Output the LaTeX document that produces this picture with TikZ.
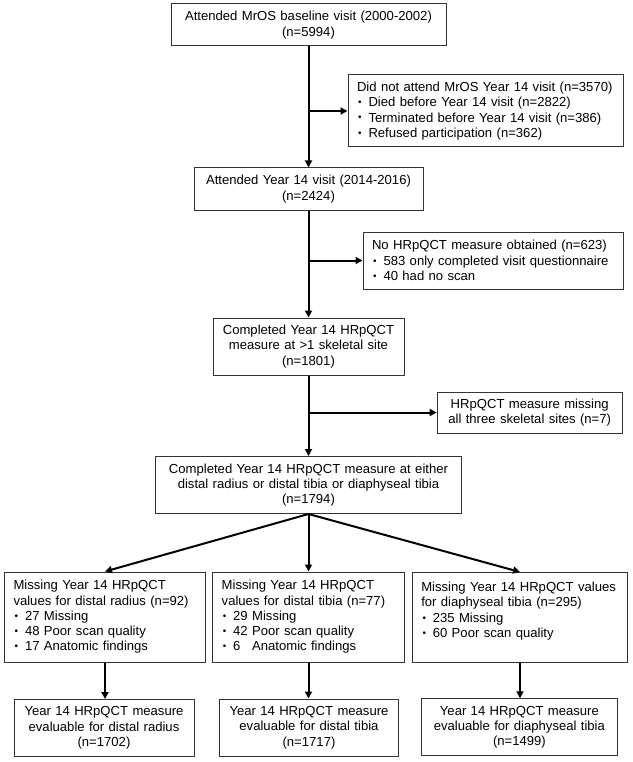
\documentclass[tikz,border=0pt]{standalone}
\usepackage{fontspec}
\setmainfont{Liberation Sans}
\usetikzlibrary{arrows.meta}
\newcommand{\myfont}{\fontsize{13.1}{15.3}\selectfont}
\newcommand{\bul}{\makebox[11.5pt][l]{\hspace{1.2pt}\raisebox{0.15ex}{\scalebox{0.75}{\textbullet}}}}
\begin{document}
\begin{tikzpicture}[x=1pt,y=-1pt,
  bx/.style={draw=black!80, line width=1pt, inner ysep=0pt, font=\myfont},
  cbx/.style={bx, align=center, inner xsep=4pt},
  lbx/.style={bx, align=left, inner xsep=9pt},
  arr/.style={line width=2pt, -{Triangle[length=7pt,width=7pt]}}]
\useasboundingbox[fill=white] (0,0) rectangle (632,762);

\node[cbx, text width=267pt, minimum height=42pt] (b1) at (308.5,25)
  {Attended MrOS baseline visit (2000-2002)\\(n=5994)};
\node[lbx, text width=257pt, minimum height=72pt] (e1) at (485.5,111)
  {Did not attend MrOS Year 14 visit (n=3570)\\
   \bul Died before Year 14 visit (n=2822)\\
   \bul Terminated before Year 14 visit (n=386)\\
   \bul Refused participation (n=362)};
\node[cbx, text width=221pt, minimum height=42pt] (b2) at (308.5,189)
  {Attended Year 14 visit (2014-2016)\\(n=2424)};
\node[lbx, text width=242pt, minimum height=57pt] (e2) at (493,260.5)
  {No HRpQCT measure obtained (n=623)\\
   \bul 583 only completed visit questionnaire\\
   \bul 40 had no scan};
\node[cbx, text width=183pt, minimum height=57pt] (b3) at (308.5,346.5)
  {Completed Year 14 HRpQCT\\measure at >1 skeletal site\\(n=1801)};
\node[cbx, text width=177pt, minimum height=41pt] (e3) at (529.7,412.5)
  {HRpQCT measure missing\\all three skeletal sites (n=7)};
\node[cbx, text width=298pt, minimum height=57pt] (b4) at (308.5,485)
  {Completed Year 14 HRpQCT measure at either\\distal radius or distal tibia or diaphyseal tibia\\(n=1794)};

\node[lbx, text width=183pt, minimum height=90pt] (m1) at (105,617)
  {Missing Year 14 HRpQCT\\values for distal radius (n=92)\\
   \bul 27 Missing\\
   \bul 48 Poor scan quality\\
   \bul 17 Anatomic findings};
\node[lbx, text width=173.6pt, minimum height=90pt] (m2) at (308.5,617)
  {Missing Year 14 HRpQCT\\values for distal tibia (n=77)\\
   \bul 29 Missing\\
   \bul 42 Poor scan quality\\
   \bul 6\phantom{0} Anatomic findings};
\node[lbx, text width=197.4pt, minimum height=90pt] (m3) at (520,617.5)
  {Missing Year 14 HRpQCT values\\for diaphyseal tibia (n=295)\\
   \bul 235 Missing\\
   \bul 60 Poor scan quality\\\phantom{X}};

\node[cbx, text width=172pt, minimum height=57pt] (f1) at (104,728)
  {Year 14 HRpQCT measure\\evaluable for distal radius\\(n=1702)};
\node[cbx, text width=171.4pt, minimum height=57pt] (f2) at (309,727.5)
  {Year 14 HRpQCT measure\\evaluable for distal tibia\\(n=1717)};
\node[cbx, text width=187.3pt, minimum height=57pt] (f3) at (519.4,727.3)
  {Year 14 HRpQCT measure\\evaluable for diaphyseal tibia\\(n=1499)};

\draw[arr] (b1.south) -- (b2.north);
\draw[arr] (b1.south |- e1.west) -- (e1.west);
\draw[arr] (b2.south) -- (b3.north);
\draw[arr] (b2.south |- e2.west) -- (e2.west);
\draw[arr] (b3.south) -- (b4.north);
\draw[arr] (b3.south |- e3.west) -- (e3.west);
\draw[arr] (b4.south) -- (m1.north);
\draw[arr] (b4.south) -- (m2.north);
\draw[arr] (b4.south) -- (m3.north);
\draw[arr] (m1.south) -- (m1.south |- f1.north);
\draw[arr] (m2.south) -- (m2.south |- f2.north);
\draw[arr] (m3.south) -- (m3.south |- f3.north);
\end{tikzpicture}
\end{document}
